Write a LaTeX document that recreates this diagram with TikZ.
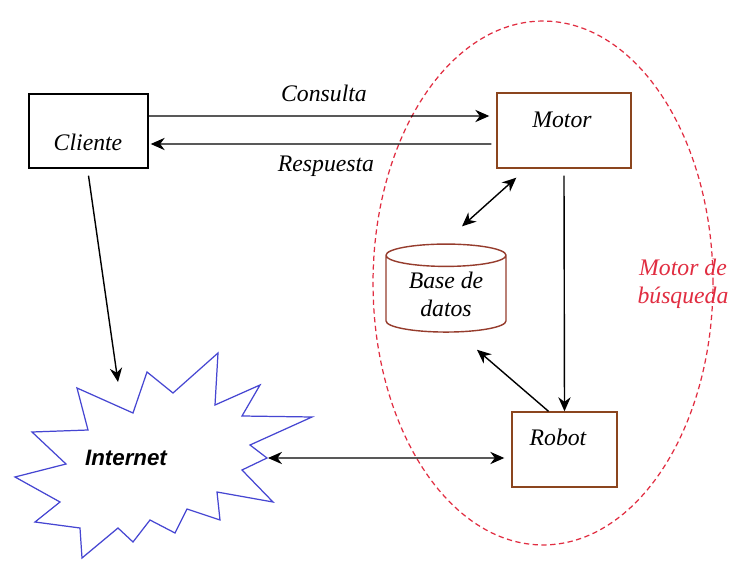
\documentclass[tikz,border=0pt]{standalone}
\usepackage{fontspec}
\setmainfont{Liberation Serif}
\newfontfamily\arialfont{Liberation Sans}
\usetikzlibrary{arrows.meta,shapes.geometric}

\definecolor{cafe}{RGB}{139,69,30}
\definecolor{rojizo}{RGB}{150,60,45}
\definecolor{azulred}{RGB}{70,70,210}
\definecolor{rojogrupo}{RGB}{225,45,65}

\begin{document}
\begin{tikzpicture}[
    x=0.02cm, y=-0.02cm,
    caja/.style={rectangle, draw=cafe, line width=0.8pt, minimum height=1.5cm},
    texto/.style={font=\fontsize{13.5}{16}\selectfont\itshape, inner sep=0pt},
    flecha/.style={-{Stealth[length=8pt,width=7pt]}, line width=0.8pt},
    doble/.style={{Stealth[length=8pt,width=7pt]}-{Stealth[length=8pt,width=7pt]}, line width=0.8pt},
    grupo/.style={ellipse, draw=rojogrupo, dash pattern=on 3pt off 2pt, line width=0.7pt, inner sep=0pt}
]
    \useasboundingbox[fill=white] (0,0) rectangle (731,561);

    % Motor de busqueda (agrupacion)
    \node[grupo, minimum width=6.8cm, minimum height=10.48cm] (buscador) at (543,283) {};
    \node[texto, text=rojogrupo, align=center] (buscadorlbl) at (683,284) {Motor de\\búsqueda};

    % Cajas
    \node[caja, draw=black, minimum width=2.38cm, minimum height=1.48cm] (cliente) at (88.5,131) {};
    \node[texto] (clientelbl) at (88,142) {Cliente};
    \node[caja, minimum width=2.68cm] (motor) at (564,130.5) {};
    \node[texto] (motorlbl) at (562,120) {Motor};
    \node[caja, minimum width=2.1cm] (robot) at (564.5,449.5) {};
    \node[texto] (robotlbl) at (558,437) {Robot};

    % Base de datos
    \node[cylinder, shape border rotate=90, draw=rojizo, line width=0.8pt,
          aspect=0.3, minimum width=2.4cm, minimum height=1.76cm,
          texto, align=center] (base) at (446,294) {Base de\\datos};

    % Internet
    \draw[azulred, line width=0.7pt, fill=white]
        (77,388) -- (133,413) -- (147,372) -- (173,393) -- (218,353) -- (215,405)
        -- (260,385) -- (242,416) -- (312,417) -- (250,445) -- (267,458) -- (242,470)
        -- (273,502) -- (217,492) -- (220,520) -- (187,509) -- (175,533) -- (150,520)
        -- (133,542) -- (118,528) -- (82,558) -- (80,528) -- (35,522) -- (60,502)
        -- (15,477) -- (66,464) -- (32,432) -- (88,430) -- cycle;
    \node[font=\arialfont\bfseries\itshape\fontsize{12.7}{15}\selectfont] (internet) at (126,458) {Internet};
    \coordinate (inet-e) at (268,458);
    \coordinate (inet-n) at (118,382);

    % Flechas
    \draw[flecha] ([yshift=0.3cm]cliente.east) -- node[texto, above=0.28cm, xshift=0.1cm] (consulta) {Consulta}
        ([xshift=-0.14cm, yshift=0.29cm]motor.west);
    \draw[flecha] ([xshift=-0.1cm, yshift=-0.27cm]motor.west) -- node[texto, below=0.22cm, xshift=0.1cm] (respuesta) {Respuesta}
        ([xshift=0.04cm, yshift=-0.26cm]cliente.east);
    \draw[doble] ([xshift=0.4cm, yshift=-0.18cm]motor.south west) -- ([xshift=0.32cm, yshift=0.34cm]base.north);
    \draw[flecha] ([yshift=-0.14cm]motor.south) -- (robot.north);
    \draw[flecha] ([xshift=-0.32cm]robot.north) -- ([xshift=0.62cm, yshift=-0.34cm]base.south);
    \draw[doble] (inet-e) -- ([xshift=-0.14cm, yshift=-0.17cm]robot.west);
    \draw[flecha] ([yshift=-0.14cm]cliente.south) -- (inet-n);
\end{tikzpicture}
\end{document}
